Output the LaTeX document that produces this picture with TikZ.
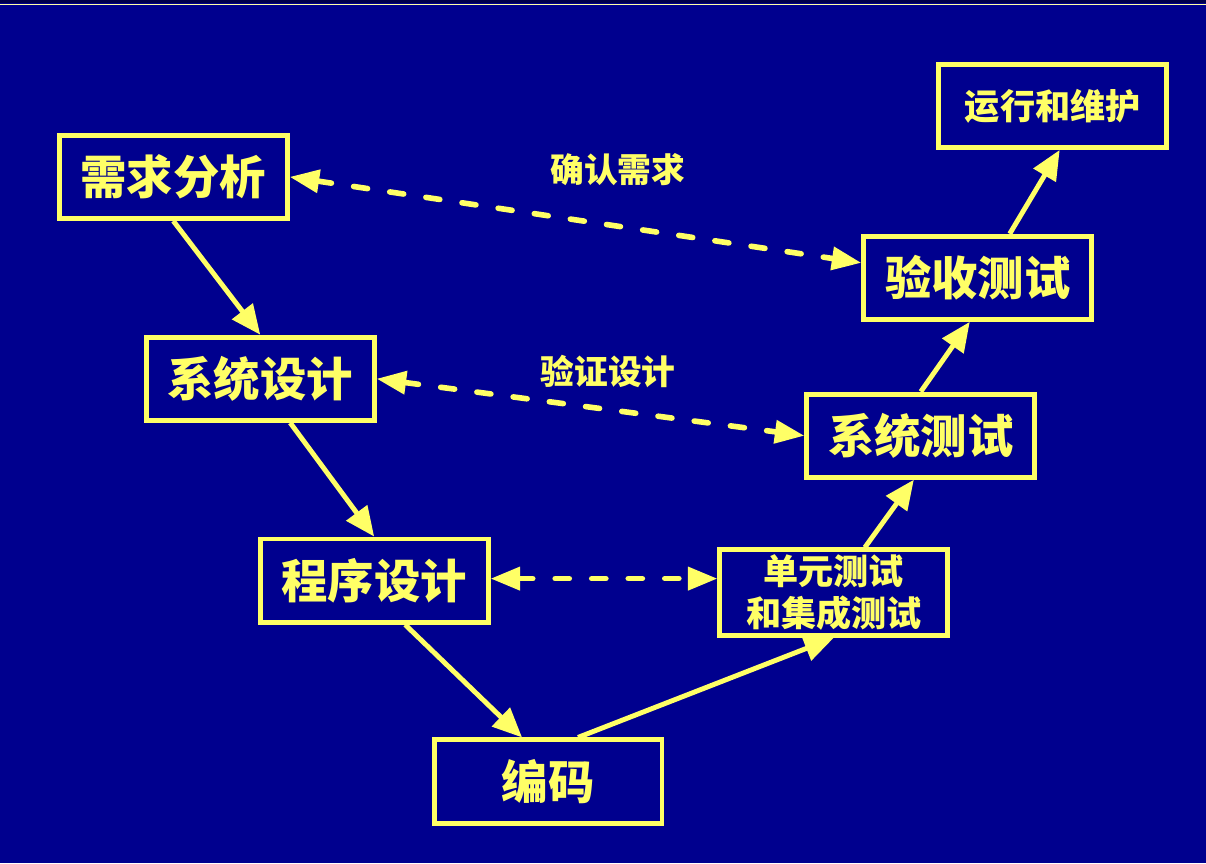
\documentclass[tikz,border=0pt]{standalone}
\usepackage{fontspec}
\newfontfamily\cjk{Noto Sans CJK SC}
\usetikzlibrary{positioning,arrows.meta,calc}
\definecolor{fundo}{RGB}{0,0,142}
\definecolor{amarelo}{RGB}{255,255,102}

\begin{document}
\begin{tikzpicture}[x=0.025cm, y=-0.025cm,
    etapa/.style={draw=amarelo, line width=3.5pt, text=amarelo, minimum width=5.7cm,
      minimum height=2.08cm, align=center, font=\cjk\bfseries\fontsize{33}{36}\selectfont},
    etapap/.style={etapa, font=\cjk\bfseries\fontsize{25}{30}\selectfont},
    rotulo/.style={text=amarelo, font=\cjk\bfseries\fontsize{24}{28}\selectfont},
    seta/.style={draw=amarelo, line width=3.5pt, -{Triangle[length=21pt,width=18pt]}},
    setad/.style={draw=amarelo, line width=4pt, line cap=round, dash pattern=on 10pt off 16pt,
      {Triangle[length=21pt,width=16pt]}-{Triangle[length=21pt,width=16pt]}}]

        % Fundo
        \fill[fundo] (0,0) rectangle (1206,864);
        \fill[black!70!blue] (0,0) rectangle (1206,3);
        \draw[amarelo!60!white, line width=0.6pt] (0,4) -- (1206,4);
        \useasboundingbox (0,0) rectangle (1206,864);

        % Etapas do lado esquerdo
        \node[etapa] (xq) at (173,177) {需求分析};
        \node[etapa] (sj) at (260,379) {系统设计};
        \node[etapa] (cx) at (374,581) {程序设计};
        \node[etapa] (bm) at (548,782) {编码};

        % Etapas do lado direito
        \node[etapap] (dy) at (834,593) {单元测试\\和集成测试};
        \node[etapa] (xc) at (921,436) {系统测试};
        \node[etapa] (ys) at (978,278) {验收测试};
        \node[etapap] (yx) at (1053,106) {运行和维护};

        % Rotulos
        \node[rotulo] (qr) at (618,170) {确认需求};
        \node[rotulo] (yz) at (608,372) {验证设计};

        % Fluxo
        \draw[seta] (xq.south) -- (sj.north);
        \draw[seta] ($(sj.south)+(30,0)$) -- (cx.north);
        \draw[seta] ($(cx.south)+(31,0)$) -- ($(bm.north)+(-26,0)$);
        \draw[seta] ($(bm.north)+(30,0)$) -- (dy.south);
        \draw[seta] ($(dy.north)+(31,0)$) -- ($(xc.south)+(-7,0)$);
        \draw[seta] (xc.north) -- ($(ys.south)+(-8,0)$);
        \draw[seta] ($(ys.north)+(32,0)$) -- ($(yx.south)+(7,0)$);

        % Verificacao
        \draw[setad] (xq.east) -- ($(ys.west)+(0,-15)$);
        \draw[setad] (sj.east) -- (xc.west);
        \draw[setad] ($(cx.east)+(0,-2)$) -- ($(dy.west)+(0,-14)$);

\end{tikzpicture}
\end{document}
